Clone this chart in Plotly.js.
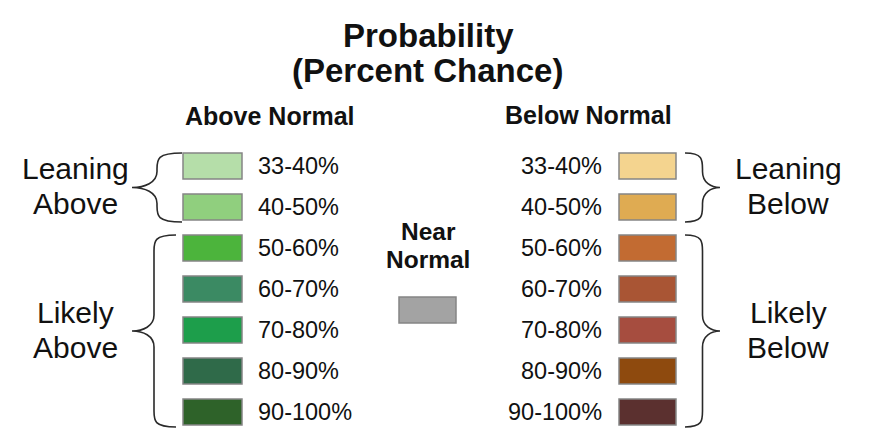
<!DOCTYPE html>
<html>
<head>
<meta charset="utf-8">
<script src="https://cdn.plot.ly/plotly-3.0.1.min.js"></script>
<style>html,body{margin:0;padding:0;background:#fff;}#chart{width:873px;height:446px;}</style>
</head>
<body>
<div id="chart"></div>
<script>
// ---- data ----
const titleLines = ['Probability', '(Percent Chance)'];
const aboveHeader = 'Above Normal';
const belowHeader = 'Below Normal';
const nearHeader = ['Near', 'Normal'];
const categories = ['33-40%', '40-50%', '50-60%', '60-70%', '70-80%', '80-90%', '90-100%'];
const aboveColors = ['#b5dea9', '#90cf7e', '#4cb43c', '#3b8a63', '#1d9e4b', '#2f6a49', '#2e6229'];
const belowColors = ['#f4d48f', '#dfab52', '#c26b32', '#a95534', '#a64d3f', '#8e4a0e', '#5b302f'];
const nearColor = '#a3a3a3';
const aboveGroups = [['Leaning', 'Above'], ['Likely', 'Above']];
const belowGroups = [['Leaning', 'Below'], ['Likely', 'Below']];
const groupRows = [[0, 1], [2, 6]];

// ---- layout constants ----
const FONT = '"Liberation Sans", Arial, sans-serif';
const row0 = 166, rowStep = 41, boxH = 26;
const leftBox = [183, 242], rightBox = [619, 676];
const rowY = i => row0 + rowStep * i;

const shapes = [];
const annotations = [];

function ann(text, x, y, size, bold, xanchor) {
  annotations.push({
    text: bold ? '<b>' + text + '</b>' : text,
    x: x, y: y, xref: 'x', yref: 'y', showarrow: false,
    xanchor: xanchor || 'center', yanchor: 'middle',
    font: {family: FONT, size: size, color: '#111111'}
  });
}
function box(x0, x1, yc, color) {
  shapes.push({type: 'rect', xref: 'x', yref: 'y', x0: x0, x1: x1,
    y0: yc - boxH / 2, y1: yc + boxH / 2,
    fillcolor: color, line: {color: '#858585', width: 1.5}});
}
function brace(xEdge, xTip, y0, y1, yTip) {
  const xm = (xEdge + xTip) / 2;
  const r = Math.min(16, (y1 - y0) / 4);
  const p = `M ${xEdge},${y0} C ${xm},${y0} ${xm},${y0 + r * 0.4} ${xm},${y0 + r} L ${xm},${yTip - r} ` +
            `C ${xm},${yTip - r * 0.3} ${(xm + xTip) / 2},${yTip} ${xTip},${yTip} ` +
            `C ${(xm + xTip) / 2},${yTip} ${xm},${yTip + r * 0.3} ${xm},${yTip + r} ` +
            `L ${xm},${y1 - r} C ${xm},${y1 - r * 0.4} ${xm},${y1} ${xEdge},${y1}`;
  shapes.push({type: 'path', xref: 'x', yref: 'y', path: p,
    line: {color: '#2a2a2a', width: 1.6}});
}

// title
ann(titleLines[0], 428, 35, 33, true);
ann(titleLines[1], 427, 70, 33, true);
ann(aboveHeader, 269, 116, 25, true);
ann(belowHeader, 588, 115, 25, true);
ann(nearHeader[0], 428, 231, 24.5, true);
ann(nearHeader[1], 428, 259, 24.5, true);
box(399, 456, 310, nearColor);

categories.forEach((c, i) => {
  box(leftBox[0], leftBox[1], rowY(i), aboveColors[i]);
  box(rightBox[0], rightBox[1], rowY(i), belowColors[i]);
  ann(c, 256, rowY(i), 23.5, false, 'left');
  ann(c, 604, rowY(i), 23.5, false, 'right');
});

groupRows.forEach((g, k) => {
  const ya = rowY(g[0]) - 13, yb = rowY(g[1]) + 15;
  const yt = (ya + yb) / 2;
  brace(k === 0 ? 182 : 176, 132, ya, yb, yt);
  brace(685, 720, ya, yb, yt);
  ann(aboveGroups[k][0], 75, yt - 19, 30, false);
  ann(aboveGroups[k][1], 75, yt + 16, 30, false);
  ann(belowGroups[k][0], 788, yt - 19, 30, false);
  ann(belowGroups[k][1], 788, yt + 16, 30, false);
});

const layout = {
  width: 873, height: 446,
  margin: {l: 0, r: 0, t: 0, b: 0},
  paper_bgcolor: '#ffffff', plot_bgcolor: '#ffffff',
  showlegend: false,
  xaxis: {range: [0, 873], visible: false, fixedrange: true},
  yaxis: {range: [446, 0], visible: false, fixedrange: true},
  shapes: shapes, annotations: annotations
};
Plotly.newPlot('chart', [{x: [], y: [], type: 'scatter'}], layout, {displayModeBar: false, staticPlot: true});
</script>
</body>
</html>
